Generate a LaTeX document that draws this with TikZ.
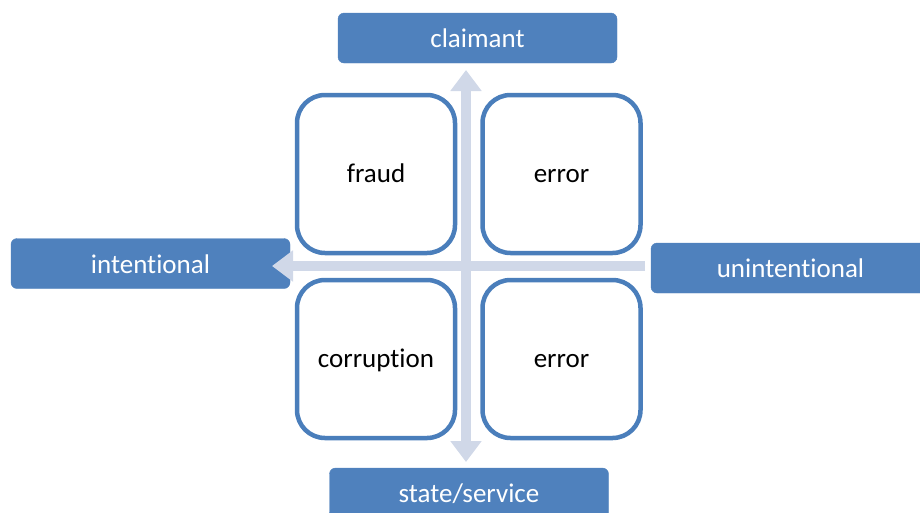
\documentclass[tikz,border=0pt]{standalone}
\usepackage{fontspec}
\setmainfont{Carlito}[Ligatures=NoCommon]
\usetikzlibrary{arrows.meta}
\definecolor{labelblue}{HTML}{4F81BD}
\definecolor{quadline}{HTML}{4A7EBB}
\definecolor{axisgrey}{HTML}{D0D8E8}
\tikzset{
  labelbox/.style={fill=labelblue,draw=labelblue,rounded corners=6pt,minimum width=279pt,minimum height=50pt,inner sep=0pt,text height=21pt,text depth=2pt,text=white,font=\fontsize{27}{32}\selectfont},
  quadbox/.style={draw=quadline,line width=4.5pt,fill=white,rounded corners=28pt,minimum size=158pt,inner sep=0pt,text height=19pt,text depth=3pt,font=\fontsize{27}{32}\selectfont},
  axis/.style={draw=axisgrey,line width=10pt,-{Triangle[width=30pt,length=21pt]},fill=axisgrey}
}
\begin{document}
\begin{tikzpicture}[x=1pt,y=-1pt]
\useasboundingbox (0,0) rectangle (920,512);
\node[labelbox] (claimant) at (477.5,38) {claimant};
\node[labelbox] (intentional) at (150.5,263.5) {intentional};
\node[labelbox] (unintentional) at (790.5,268) {unintentional};
\node[labelbox] (state) at (469,493) {state/service};
\node[quadbox] (fraud) at (376,174) {fraud};
\node[quadbox] (error1) at (561.5,174) {error};
\node[quadbox] (corruption) at (376,359) {corruption};
\node[quadbox] (error2) at (561.5,359) {error};
\coordinate (vtop) at (466,70);
\coordinate (vbot) at (466,462);
\coordinate (hleft) at (272,266);
\coordinate (hright) at (645,266);
\draw[axis,{Triangle[width=30pt,length=21pt]}-{Triangle[width=30pt,length=21pt]}] (vbot) -- (vtop);
\draw[axis] (hright) -- (hleft);
\end{tikzpicture}
\end{document}
